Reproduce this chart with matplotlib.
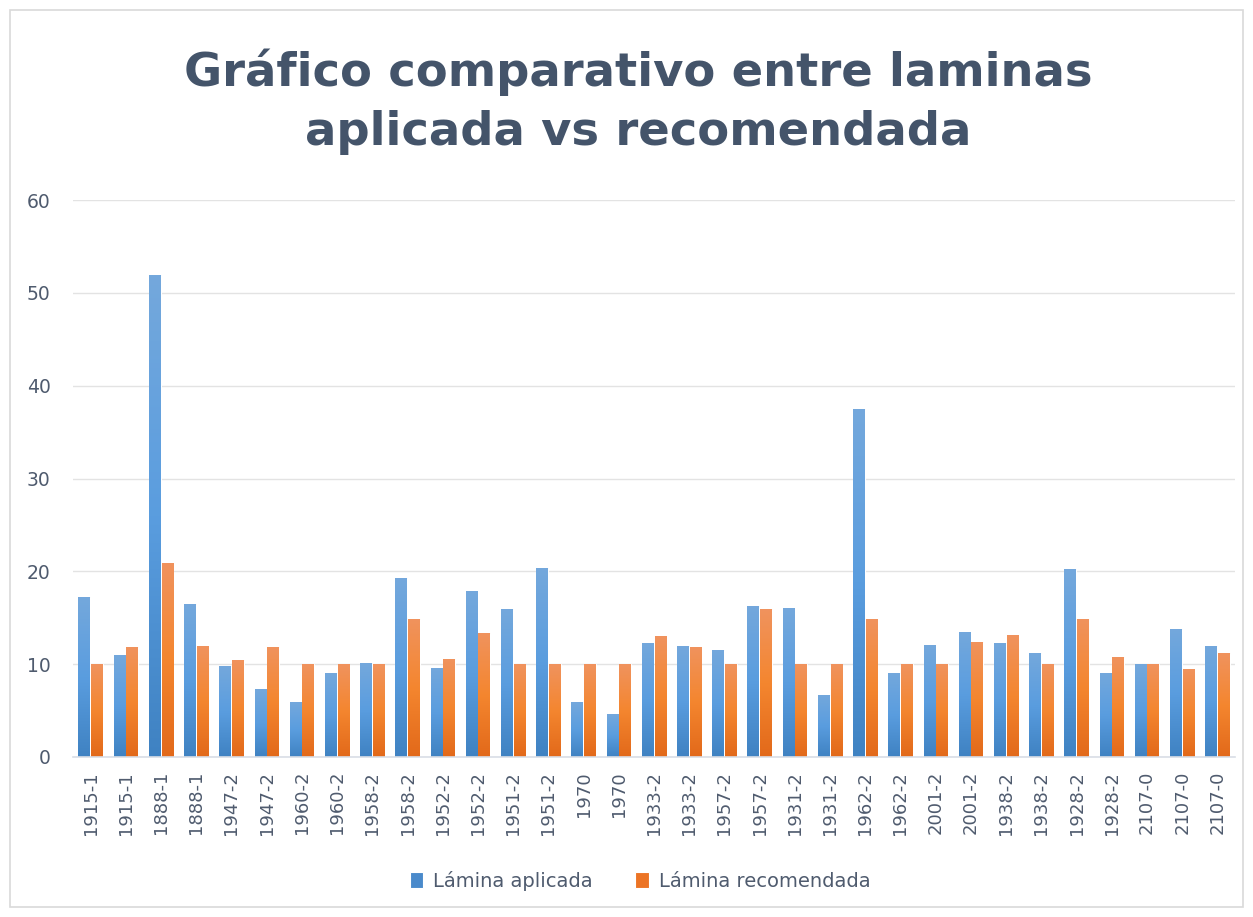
import matplotlib
matplotlib.use("Agg")
import matplotlib.pyplot as plt
import numpy as np
from matplotlib.colors import LinearSegmentedColormap
from matplotlib.patches import Rectangle

categories = ["1915-1", "1915-1", "1888-1", "1888-1", "1947-2", "1947-2", "1960-2", "1960-2",
              "1958-2", "1958-2", "1952-2", "1952-2", "1951-2", "1951-2", "1970", "1970",
              "1933-2", "1933-2", "1957-2", "1957-2", "1931-2", "1931-2", "1962-2", "1962-2",
              "2001-2", "2001-2", "1938-2", "1938-2", "1928-2", "1928-2", "2107-0", "2107-0", "2107-0"]
aplicada = [17.2, 11.0, 51.9, 16.5, 9.8, 7.3, 5.9, 9.1, 10.1, 19.3, 9.6,
            17.9, 15.9, 20.4, 5.9, 4.6, 12.3, 12.0, 11.5, 16.3, 16.0, 6.7,
            37.5, 9.1, 12.1, 13.5, 12.3, 11.2, 20.2, 9.1, 10.0, 13.8, 12.0]
recomendada = [10.0, 11.9, 20.9, 12.0, 10.5, 11.9, 10.0, 10.0, 10.0, 14.9, 10.6,
               13.4, 10.0, 10.0, 10.0, 10.0, 13.0, 11.9, 10.0, 15.9, 10.0, 10.0,
               14.9, 10.0, 10.0, 12.4, 13.1, 10.0, 14.9, 10.8, 10.0, 9.5, 11.2]
yticks = [0, 10, 20, 30, 40, 50, 60]
title = "Gráfico comparativo entre laminas\naplicada vs recomendada"
labels = ["Lámina aplicada", "Lámina recomendada"]

W, H = 1253, 917
fig = plt.figure(figsize=(W / 100, H / 100), dpi=100)
fig.patch.set_facecolor("white")
ax = fig.add_axes([73 / W, 1 - 757 / H, (1235 - 73) / W, (757 - 200) / H])

x = np.arange(len(categories))
bw = 0.33
blue_cmap = LinearSegmentedColormap.from_list("b", ["#3F82C2", "#5A9DDF", "#74A8DC"])
orange_cmap = LinearSegmentedColormap.from_list("o", ["#E2691A", "#F4862F", "#F0935E"])
grad = np.linspace(0, 1, 256).reshape(-1, 1)

def grad_bars(xs, vals, cmap, legend_color, label):
    bars = ax.bar(xs, vals, width=bw, color=legend_color, edgecolor="#FFFFFF",
                  linewidth=0.8, label=label, zorder=2)
    for b in bars:
        bx, by = b.get_x(), b.get_y()
        bwid, bh = b.get_width(), b.get_height()
        im = ax.imshow(grad, cmap=cmap, origin="lower", aspect="auto",
                       extent=[bx, bx + bwid, by, by + bh], zorder=2.5)
        im.set_clip_path(b)
    return bars

grad_bars(x - 0.18, aplicada, blue_cmap, "#4A8ACB", labels[0])
grad_bars(x + 0.18, recomendada, orange_cmap, "#EC7425", labels[1])

ax.set_xlim(-0.5, len(categories) - 0.5)
ax.set_ylim(0, 60)
ax.set_yticks(yticks)
ax.yaxis.grid(True, color="#E3E3E3", linewidth=1.0, zorder=0)
ax.set_axisbelow(True)
for s in ["top", "right", "left"]:
    ax.spines[s].set_visible(False)
ax.spines["bottom"].set_color("#D9DEE6")
ax.spines["bottom"].set_linewidth(1.2)
ax.spines["bottom"].set_zorder(3)
ax.set_xticks(x)
ax.set_xticklabels(categories, rotation=90, fontsize=13, color="#4F5B6E")
ax.tick_params(axis="x", length=0, pad=10)
ax.tick_params(axis="y", length=0, pad=16, labelsize=13.5, labelcolor="#4F5B6E")

fig.text(638 / W, 1 - 102 / H, title, ha="center", va="center", fontsize=33.5,
         fontweight="heavy", color="#44546A", linespacing=1.4)

leg = fig.legend(loc="center", bbox_to_anchor=(640 / W, 1 - 881 / H), ncol=2, frameon=False,
                 fontsize=14, handlelength=0.7, handleheight=0.9, handletextpad=0.5,
                 columnspacing=2.2, labelcolor="#4F5B6E")

fig.add_artist(Rectangle((10 / W, 10 / H), (W - 20) / W, (H - 20) / H,
                         transform=fig.transFigure, fill=False, edgecolor="#D9D9D9", linewidth=1.2))

fig.savefig("out.png", dpi=100)
